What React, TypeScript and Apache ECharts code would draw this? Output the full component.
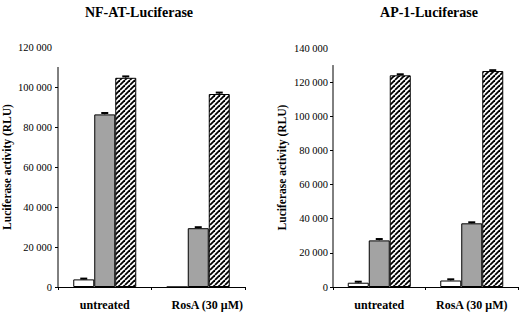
import React, { useEffect, useRef } from 'react';
import * as echarts from 'echarts';

const categories = ['untreated', 'RosA (30 μM)'];

const nfatControl = [3800, 0];
const nfatGray = [86300, 29400];
const nfatHatched = [104600, 96500];
const nfatControlErr = [400, 0];
const nfatGrayErr = [700, 500];
const nfatHatchedErr = [700, 700];

const ap1Control = [2500, 3800];
const ap1Gray = [27300, 37300];
const ap1Hatched = [124000, 126500];
const ap1ControlErr = [600, 700];
const ap1GrayErr = [800, 600];
const ap1HatchedErr = [600, 500];

const nfatAxisMax = 120000;
const nfatAxisLineTop = 110000;
const ap1AxisMax = 140000;
const ap1AxisLineTop = 130000;
const tickStep = 20000;
const tickValues = [0, 20000, 40000, 60000, 80000, 100000, 120000];

const FONT = "'Liberation Serif', 'Times New Roman', serif";

function fmt(v: number): string {
  if (v < 1000) return String(v);
  const th = Math.floor(v / 1000);
  const rest = String(v % 1000).padStart(3, '0');
  return th + ' ' + rest;
}

function makeHatch(): HTMLCanvasElement {
  const s = 5;
  const c = document.createElement('canvas');
  c.width = s;
  c.height = s;
  const ctx = c.getContext('2d')!;
  ctx.fillStyle = '#fff';
  ctx.fillRect(0, 0, s, s);
  ctx.strokeStyle = '#000';
  ctx.lineWidth = 1.8;
  for (const k of [-s, 0, s]) {
    ctx.beginPath();
    ctx.moveTo(k, s);
    ctx.lineTo(k + s, 0);
    ctx.stroke();
  }
  return c;
}

function errSeries(axis: number, vals: number[], errs: number[], offset: number) {
  return {
    type: 'custom',
    xAxisIndex: axis,
    yAxisIndex: axis,
    silent: true,
    z: 10,
    encode: { x: 0, y: 1 },
    data: vals.map((v, i) => [i, v, errs[i]]),
    renderItem: (_p: any, api: any) => {
      const i = api.value(0);
      const v = api.value(1);
      const e = api.value(2);
      if (!v || !e) return null;
      const base = api.coord([i, v]);
      const top = api.coord([i, v + e]);
      const x = base[0] + offset;
      return {
        type: 'group',
        children: [
          { type: 'line', shape: { x1: x, y1: base[1], x2: x, y2: top[1] }, style: { stroke: '#000', lineWidth: 1 } },
          { type: 'line', shape: { x1: x - 3.5, y1: top[1], x2: x + 3.5, y2: top[1] }, style: { stroke: '#000', lineWidth: 2 } },
        ],
      };
    },
  };
}

const GRID_L = { left: 58, right: 275, top: 47, bottom: 26 };
const GRID_R = { left: 333, right: 2, top: 48, bottom: 26 };

export default function App() {
  const ref = useRef<HTMLDivElement>(null);
  useEffect(() => {
    if (!ref.current) return;
    const chart = echarts.init(ref.current, null, { renderer: 'svg' });
    const hatch = { image: makeHatch(), repeat: 'repeat' } as any;
    const BW = 21;

    const barStyle = (color: any) => ({ color, borderColor: '#000', borderWidth: 1 });

    const yAxis = (idx: number, max: number) => ({
      type: 'value',
      gridIndex: idx,
      min: 0,
      max,
      interval: tickStep,
      name: 'Luciferase activity (RLU)',
      nameLocation: 'middle',
      nameGap: 45,
      nameRotate: 90,
      nameTextStyle: { fontFamily: FONT, fontWeight: 'bold', fontSize: 11.5, color: '#000' },
      axisLine: { show: false },
      axisTick: {
        show: true,
        length: 3,
        inside: false,
        lineStyle: { color: '#000' },
        customValues: tickValues.filter((v) => v <= (idx === 0 ? nfatAxisLineTop : ap1AxisLineTop)),
      },
      splitLine: { show: false },
      axisLabel: { fontFamily: FONT, fontSize: 10.5, color: '#000', margin: idx === 0 ? 6 : 5, formatter: (v: number) => fmt(v) },
    });

    const xAxis = (idx: number) => ({
      type: 'category',
      gridIndex: idx,
      data: categories,
      axisLine: { lineStyle: { color: '#000', width: 1 } },
      axisTick: { show: true, length: 3, lineStyle: { color: '#000' } },
      axisLabel: {
        interval: 0,
        hideOverlap: false,
        fontFamily: FONT,
        fontWeight: 'bold',
        fontSize: 12,
        color: '#000',
        margin: 12,
        formatter: (v: string, i: number) => (idx === 0 && i === 1 ? '{r|' + v + '}' : v),
        rich: { r: { fontFamily: FONT, fontWeight: 'bold', fontSize: 12, color: '#000', padding: [0, 0, 0, 18] } },
      },
    });

    const bar = (axis: number, data: number[], color: any) => ({
      type: 'bar',
      xAxisIndex: axis,
      yAxisIndex: axis,
      data,
      barWidth: BW,
      barGap: '0%',
      itemStyle: barStyle(color),
    });

    chart.setOption({
      animation: false,
      title: [
        { text: 'NF-AT-Luciferase', left: 134, top: 0, textAlign: 'center', textStyle: { fontFamily: FONT, fontWeight: 'bold', fontSize: 14, color: '#000' } },
        { text: 'AP-1-Luciferase', left: 424, top: 0, textAlign: 'center', textStyle: { fontFamily: FONT, fontWeight: 'bold', fontSize: 14, color: '#000' } },
      ],
      grid: [GRID_L, GRID_R],
      xAxis: [xAxis(0), xAxis(1)],
      yAxis: [yAxis(0, nfatAxisMax), yAxis(1, ap1AxisMax)],
      series: [
        bar(0, nfatControl, '#fff'),
        bar(0, nfatGray, '#a3a3a3'),
        bar(0, nfatHatched, hatch),
        bar(1, ap1Control, '#fff'),
        bar(1, ap1Gray, '#a3a3a3'),
        bar(1, ap1Hatched, hatch),
        errSeries(0, nfatControl, nfatControlErr, -BW),
        errSeries(0, nfatGray, nfatGrayErr, 0),
        errSeries(0, nfatHatched, nfatHatchedErr, BW),
        errSeries(1, ap1Control, ap1ControlErr, -BW),
        errSeries(1, ap1Gray, ap1GrayErr, 0),
        errSeries(1, ap1Hatched, ap1HatchedErr, BW),
      ],
    });

    const yTopL = chart.convertToPixel({ yAxisIndex: 0 } as any, nfatAxisLineTop) as number;
    const yBotL = chart.convertToPixel({ yAxisIndex: 0 } as any, 0) as number;
    const yTopR = chart.convertToPixel({ yAxisIndex: 1 } as any, ap1AxisLineTop) as number;
    const yBotR = chart.convertToPixel({ yAxisIndex: 1 } as any, 0) as number;
    chart.setOption({
      graphic: [
        { type: 'line', shape: { x1: GRID_L.left, y1: yTopL, x2: GRID_L.left, y2: yBotL }, style: { stroke: '#000', lineWidth: 1 }, z: 20 },
        { type: 'line', shape: { x1: GRID_R.left, y1: yTopR, x2: GRID_R.left, y2: yBotR }, style: { stroke: '#000', lineWidth: 1 }, z: 20 },
      ],
    });

    return () => chart.dispose();
  }, []);
  return <div ref={ref} style={{ position: 'fixed', left: 0, top: 0, width: 520, height: 313, background: '#fff' }} />;
}
